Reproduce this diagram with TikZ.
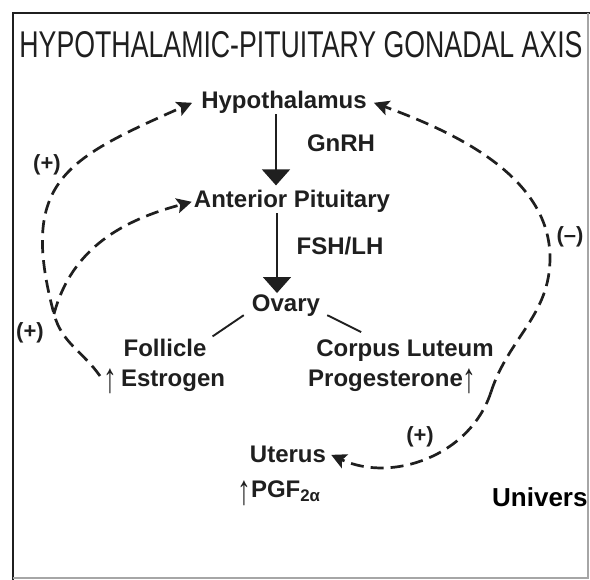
\documentclass[tikz,border=0pt]{standalone}
\usepackage{fontspec}
\setmainfont{Liberation Sans}
\usetikzlibrary{arrows.meta}
\definecolor{inkgray}{gray}{0.12}
\newcommand{\uparr}{\smash{\raisebox{-6pt}{\scalebox{1.15}[1.75]{\mdseries ↑}}}}

\begin{document}
\begin{tikzpicture}[x=1pt,y=-1pt,
    organ/.style={font=\bfseries\fontsize{24}{26}\selectfont, text=inkgray, inner sep=0pt, anchor=base},
    sign/.style={font=\bfseries\fontsize{22}{24}\selectfont, text=inkgray, inner sep=0pt},
    flow/.style={draw=inkgray, line width=1.6pt, -{Triangle[length=16pt,width=28pt]}},
    fb/.style={draw=inkgray, line width=2.7pt, dash pattern=on 13pt off 7pt, -{Stealth[length=15pt,width=15pt,inset=3pt]}},
    branch/.style={draw=inkgray, line width=1.9pt}]
  \useasboundingbox (0,0) rectangle (590,580);
  % frame and title
  \draw[line width=2.6pt, inkgray] (13,580) -- (13,13) -- (590,13);
  \draw[line width=1.2pt, black!35] (588,13) -- (588,578) -- (13,578);
  \node[text=inkgray] (title) at (301,45) {\resizebox{563pt}{26pt}{HYPOTHALAMIC-PITUITARY GONADAL AXIS}};
  % axis
  \node[organ] (hypo) at (284,109) {Hypothalamus};
  \node[organ] (gnrh) at (341,152) {GnRH};
  \node[organ] (ap) at (292,208) {Anterior Pituitary};
  \node[organ] (fshlh) at (340,255) {FSH/LH};
  \node[organ] (ovary) at (286,312) {Ovary};
  \node[organ] (foll) at (165,357) {Follicle};
  \node[organ, anchor=base west] (estr) at (103,387) {\uparr\,Estrogen};
  \node[organ] (cl) at (405,357) {Corpus Luteum};
  \node[organ, anchor=base west] (prog) at (308,387) {Progesterone\uparr};
  \node[organ] (uterus) at (288,463) {Uterus};
  \node[organ, anchor=base west] (pgf) at (237,498) {\uparr PGF\textsubscript{2α}};
  \node[organ, anchor=base west, text=black, font=\bfseries\fontsize{26}{28}\selectfont] (univ) at (492,507) {Univers};
  % signs
  \node[sign] (plusa) at (47,165) {(+)};
  \node[sign] (plusb) at (30,333) {(+)};
  \node[sign] (minus) at (570,237) {(–)};
  \node[sign] (plusc) at (420,437) {(+)};
  % hormones down the axis
  \draw[flow, shorten >=5pt] ([xshift=-8pt]hypo.south) -- ([xshift=-16pt]ap.north);
  \draw[flow, shorten >=2pt] ([xshift=-15pt]ap.south) -- ([xshift=-9pt]ovary.north);
  \draw[branch] ([xshift=-8pt,yshift=2pt]ovary.south west) -- ([xshift=6pt,yshift=3pt]foll.north east);
  \draw[branch] ([xshift=7pt,yshift=2pt]ovary.south east) -- ([xshift=45pt,yshift=8pt]cl.north west);
  % feedback loops
  \coordinate (estart) at (100,376);
  \coordinate (fork) at (54,314);
  \coordinate (pstart) at (491,392);
  \coordinate (rbend) at (550,258);
  \draw[fb] (estart) to[out=125,in=-75] (fork) to[out=105,in=204,looseness=1.4] ([xshift=-9pt]hypo.west);
  \draw[fb] (fork) to[out=75,in=195] ([xshift=-2pt]ap.west);
  \draw[fb] (pstart) to[out=72,in=270] (rbend) to[out=90,in=-20,looseness=0.9] ([xshift=7pt]hypo.east);
  \draw[fb] (pstart) to[out=-108,in=-25] ([xshift=5pt]uterus.east);
\end{tikzpicture}
\end{document}
